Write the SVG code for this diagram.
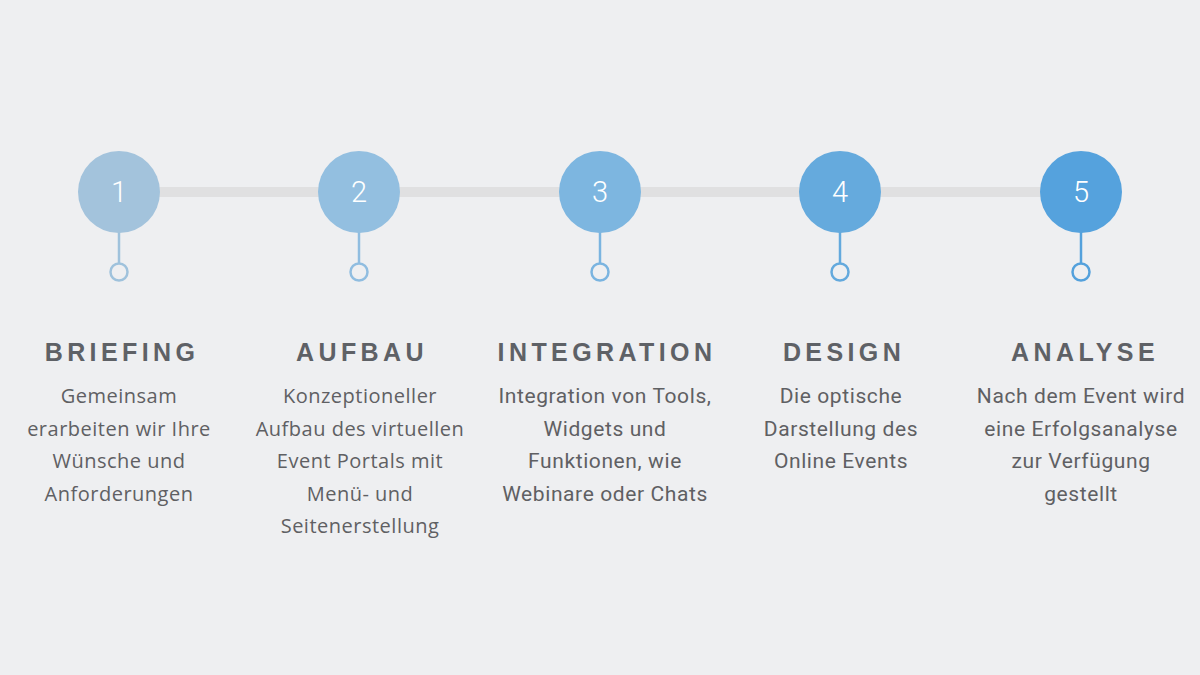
<svg xmlns="http://www.w3.org/2000/svg" width="1200" height="675" viewBox="0 0 1200 675">
<style>
.bg{fill:#eeeff1}
.bar{stroke:#e0e0e1;stroke-width:10}
.num{font-family:Roboto,"Liberation Sans",sans-serif;font-weight:300;font-size:29px;fill:#ffffff;text-anchor:middle}
.title{font-family:"Liberation Sans",Arial,sans-serif;font-weight:bold;font-size:25px;fill:#5e6166;text-anchor:middle;letter-spacing:4.4px}
.body{font-family:"Open Sans","Liberation Sans",sans-serif;font-size:20px;fill:#5f6063;text-anchor:middle;letter-spacing:0.5px}
.cond{font-family:Roboto,"Liberation Sans",sans-serif;font-size:21px;fill:#5f6063;text-anchor:middle;letter-spacing:0.6px}
.stem{stroke-width:2.5;fill:none}
.dot{stroke-width:2.5;fill:#eeeff1}
</style>
<rect class="bg" x="0" y="0" width="1200" height="675"/>
<g id="connectors">
<line class="bar" x1="119" y1="192" x2="1081" y2="192"/>
</g>
<g id="step1">
<line class="stem" x1="119" y1="230" x2="119" y2="264" stroke="#9fc2dc"/>
<circle class="dot" cx="119" cy="272" r="8.5" stroke="#9fc2dc"/>
<circle cx="119" cy="192" r="41" fill="#a3c3dc"/>
<text class="num" x="119" y="202">1</text>
<text class="title" x="122" y="361">BRIEFING</text>
<text class="body" x="119" y="403">Gemeinsam</text>
<text class="body" x="119" y="436">erarbeiten wir Ihre</text>
<text class="body" x="119" y="468">Wünsche und</text>
<text class="body" x="119" y="501">Anforderungen</text>
</g>
<g id="step2">
<line class="stem" x1="359" y1="230" x2="359" y2="264" stroke="#90bde0"/>
<circle class="dot" cx="359" cy="272" r="8.5" stroke="#90bde0"/>
<circle cx="359" cy="192" r="41" fill="#93bfe0"/>
<text class="num" x="359" y="202">2</text>
<text class="title" x="362" y="361">AUFBAU</text>
<text class="body" x="360" y="403">Konzeptioneller</text>
<text class="body" x="360" y="436">Aufbau des virtuellen</text>
<text class="body" x="360" y="468">Event Portals mit</text>
<text class="body" x="360" y="501">Menü- und</text>
<text class="body" x="360" y="533">Seitenerstellung</text>
</g>
<g id="step3">
<line class="stem" x1="600" y1="230" x2="600" y2="264" stroke="#7ab4e0"/>
<circle class="dot" cx="600" cy="272" r="8.5" stroke="#7ab4e0"/>
<circle cx="600" cy="192" r="41" fill="#7db6e0"/>
<text class="num" x="600" y="202">3</text>
<text class="title" x="607" y="361">INTEGRATION</text>
<text class="cond" x="605" y="403">Integration von Tools,</text>
<text class="cond" x="605" y="436">Widgets und</text>
<text class="cond" x="605" y="468">Funktionen, wie</text>
<text class="cond" x="605" y="501">Webinare oder Chats</text>
</g>
<g id="step4">
<line class="stem" x1="840" y1="230" x2="840" y2="264" stroke="#63a9dd"/>
<circle class="dot" cx="840" cy="272" r="8.5" stroke="#63a9dd"/>
<circle cx="840" cy="192" r="41" fill="#65aadd"/>
<text class="num" x="840" y="202">4</text>
<text class="title" x="844" y="361">DESIGN</text>
<text class="cond" x="841" y="403">Die optische</text>
<text class="cond" x="841" y="436">Darstellung des</text>
<text class="cond" x="841" y="468">Online Events</text>
</g>
<g id="step5">
<line class="stem" x1="1081" y1="230" x2="1081" y2="264" stroke="#54a1dc"/>
<circle class="dot" cx="1081" cy="272" r="8.5" stroke="#54a1dc"/>
<circle cx="1081" cy="192" r="41" fill="#55a2dd"/>
<text class="num" x="1081" y="202">5</text>
<text class="title" x="1085" y="361">ANALYSE</text>
<text class="cond" x="1081" y="403">Nach dem Event wird</text>
<text class="cond" x="1081" y="436">eine Erfolgsanalyse</text>
<text class="cond" x="1081" y="468">zur Verfügung</text>
<text class="cond" x="1081" y="501">gestellt</text>
</g>
</svg>
